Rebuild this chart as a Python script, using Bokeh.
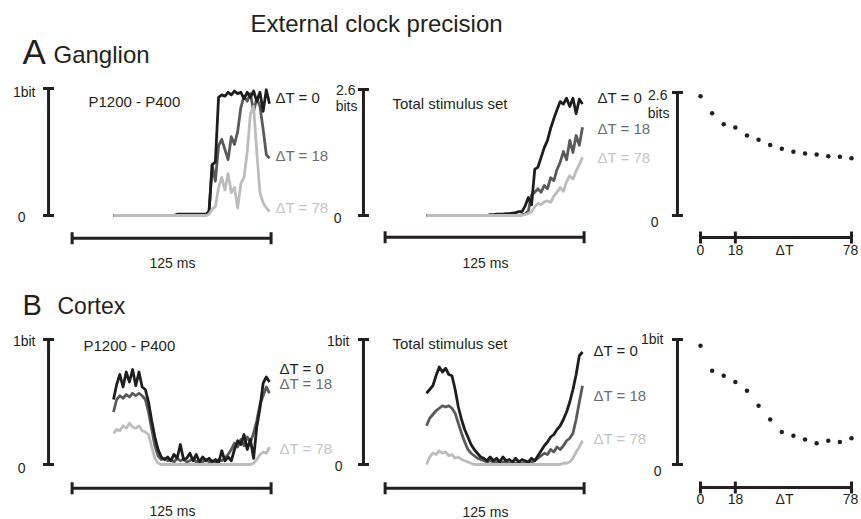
from math import pi
from bokeh.plotting import figure
from bokeh.models import Range1d
from bokeh.core.properties import value
from bokeh.embed import file_html
from bokeh.resources import INLINE

# ---------------- data ----------------
# sample times of the information traces (ms)
T_MS = [0, 2, 4, 6, 8, 10, 12, 14, 16, 18, 20, 22, 24, 26, 28, 30, 32, 34, 36, 38,
        40, 42, 44, 46, 48, 50, 52, 54, 56, 58, 60, 62, 64, 66, 68, 70, 72, 74, 76, 78,
        80, 82, 84, 86, 88, 90, 92, 94, 96, 98]

# A  Ganglion, P1200 - P400 (bits)
A1_DT0 = [0, 0, 0, 0, 0, 0, 0, 0, 0, 0, 0, 0, 0, 0, 0, 0, 0, 0, 0, 0,
          0.01, 0.01, 0.01, 0.01, 0.01, 0.01, 0.01, 0.01, 0.01, 0.01,
          0.03, 0.40, 0.42, 0.93, 0.95, 0.94, 0.97, 0.95, 0.98, 0.96,
          0.97, 0.92, 0.97, 0.93, 0.98, 0.90, 0.97, 0.82, 0.99, 0.88]
A1_DT18 = [0, 0, 0, 0, 0, 0, 0, 0, 0, 0, 0, 0, 0, 0, 0, 0, 0, 0, 0, 0,
           0, 0, 0, 0, 0, 0, 0, 0, 0, 0,
           0.02, 0.40, 0.27, 0.55, 0.60, 0.52, 0.44, 0.62, 0.56, 0.66,
           0.85, 0.94, 0.90, 0.96, 0.82, 0.92, 0.86, 0.68, 0.48, 0.45]
A1_DT78 = [0, 0, 0, 0, 0, 0, 0, 0, 0, 0, 0, 0, 0, 0, 0, 0, 0, 0, 0, 0,
           0, 0, 0, 0, 0, 0, 0, 0, 0, 0,
           0.01, 0.05, 0.07, 0.22, 0.30, 0.20, 0.33, 0.18, 0.22, 0.06,
           0.25, 0.30, 0.50, 0.80, 0.86, 0.50, 0.18, 0.10, 0.06, 0.03]

# A  Ganglion, total stimulus set (bits)
A2_DT0 = [0, 0, 0, 0, 0, 0, 0, 0, 0, 0, 0, 0, 0, 0, 0, 0, 0, 0, 0, 0,
          0.02, 0.02, 0.03, 0.03, 0.03, 0.04, 0.04, 0.05, 0.06, 0.08,
          0.08, 0.20, 0.37, 0.22, 0.95, 1.00, 1.20, 1.40, 1.55, 1.80,
          2.00, 2.18, 2.35, 2.30, 2.42, 2.25, 2.42, 2.10, 2.40, 2.30]
A2_DT18 = [0, 0, 0, 0, 0, 0, 0, 0, 0, 0, 0, 0, 0, 0, 0, 0, 0, 0, 0, 0,
           0, 0, 0, 0, 0, 0, 0, 0, 0, 0,
           0.02, 0.03, 0.10, 0.42, 0.48, 0.55, 0.48, 0.62, 0.55, 0.78,
           0.72, 0.95, 1.10, 1.32, 1.15, 1.55, 1.30, 1.65, 1.45, 1.82]
A2_DT78 = [0, 0, 0, 0, 0, 0, 0, 0, 0, 0, 0, 0, 0, 0, 0, 0, 0, 0, 0, 0,
           0, 0, 0, 0, 0, 0, 0, 0, 0, 0,
           0.00, 0.02, 0.04, 0.08, 0.18, 0.25, 0.22, 0.28, 0.30, 0.27,
           0.40, 0.48, 0.58, 0.50, 0.70, 0.82, 0.75, 0.92, 1.05, 1.20]

# B  Cortex, P1200 - P400 (bits)
B1_DT0 = [0.52, 0.64, 0.72, 0.62, 0.74, 0.66, 0.76, 0.63, 0.74, 0.62,
          0.60, 0.50, 0.35, 0.22, 0.12, 0.06, 0.04, 0.06, 0.03, 0.08,
          0.05, 0.16, 0.04, 0.05, 0.09, 0.03, 0.08, 0.02, 0.06, 0.03,
          0.05, 0.02, 0.04, 0.01, 0.11, 0.03, 0.06, 0.03, 0.12, 0.19,
          0.16, 0.24, 0.12, 0.20, 0.05, 0.30, 0.45, 0.65, 0.70, 0.66]
B1_DT18 = [0.42, 0.52, 0.55, 0.53, 0.56, 0.54, 0.57, 0.55, 0.57, 0.55,
           0.52, 0.42, 0.28, 0.15, 0.07, 0.04, 0.05, 0.03, 0.04, 0.02,
           0.05, 0.03, 0.04, 0.02, 0.03, 0.05, 0.02, 0.03, 0.02, 0.04,
           0.02, 0.03, 0.02, 0.04, 0.03, 0.05, 0.08, 0.12, 0.17, 0.14,
           0.20, 0.15, 0.22, 0.18, 0.25, 0.35, 0.48, 0.55, 0.62, 0.57]
B1_DT78 = [0.25, 0.28, 0.27, 0.31, 0.29, 0.33, 0.30, 0.29, 0.31, 0.27,
           0.26, 0.24, 0.14, 0.05, 0.01, 0, 0, 0, 0, 0,
           0, 0, 0, 0, 0, 0, 0, 0, 0, 0,
           0, 0, 0, 0, 0, 0, 0, 0, 0, 0,
           0, 0, 0, 0, 0.01, 0.04, 0.08, 0.10, 0.09, 0.14]

# B  Cortex, total stimulus set (bits)
B2_DT0 = [0.57, 0.60, 0.63, 0.71, 0.78, 0.74, 0.77, 0.72, 0.71, 0.60,
          0.46, 0.36, 0.28, 0.22, 0.16, 0.12, 0.09, 0.06, 0.05, 0.03,
          0.06, 0.03, 0.05, 0.02, 0.06, 0.03, 0.04, 0.02, 0.05, 0.02,
          0.04, 0.03, 0.02, 0.05, 0.03, 0.07, 0.11, 0.15, 0.18, 0.22,
          0.24, 0.28, 0.31, 0.36, 0.42, 0.50, 0.60, 0.72, 0.87, 0.90]
B2_DT18 = [0.31, 0.37, 0.40, 0.43, 0.45, 0.47, 0.46, 0.47, 0.45, 0.41,
           0.33, 0.25, 0.18, 0.12, 0.09, 0.07, 0.05, 0.04, 0.03, 0.02,
           0.03, 0.02, 0.02, 0.01, 0.02, 0.02, 0.01, 0.02, 0.01, 0.02,
           0.01, 0.02, 0.01, 0.02, 0.03, 0.05, 0.07, 0.09, 0.08, 0.12,
           0.10, 0.14, 0.12, 0.15, 0.19, 0.21, 0.25, 0.36, 0.50, 0.63]
B2_DT78 = [0.00, 0.06, 0.09, 0.08, 0.11, 0.09, 0.10, 0.07, 0.08, 0.05,
           0.06, 0.04, 0.03, 0.02, 0.01, 0, 0, 0, 0, 0,
           0, 0, 0, 0, 0, 0, 0, 0, 0, 0,
           0, 0, 0, 0, 0, 0, 0, 0, 0, 0,
           0, 0, 0, 0.01, 0.01, 0.02, 0.05, 0.10, 0.14, 0.19]

# information vs clock precision ΔT
DT_VALUES = [0, 6, 12, 18, 24, 30, 36, 42, 48, 54, 60, 66, 72, 78]
A3_INFO = [2.52, 2.16, 1.93, 1.86, 1.69, 1.60, 1.49, 1.41, 1.35, 1.31, 1.29, 1.25, 1.24, 1.21]
B3_INFO = [0.95, 0.75, 0.71, 0.66, 0.59, 0.47, 0.36, 0.26, 0.23, 0.20, 0.17, 0.19, 0.18, 0.21]

DT_TICKS = [0, 18, 78]
SERIES_LABELS = ["ΔT = 0", "ΔT = 18", "ΔT = 78"]

# ---------------- styles / layout ----------------
FONT = "Liberation Sans"
INK = "#231f20"
COL = ["#1e1e1e", "#5a5a5a", "#bcbcbc"]      # ΔT = 0, 18, 78 traces
LCOL = ["#231f20", "#6c6c6c", "#c4c4c4"]     # ΔT label colours

W, H, M = 861, 519, 0
p = figure(width=W, height=H, x_range=Range1d(M, M + W), y_range=Range1d(M + H, M),
           output_backend="svg", toolbar_location=None, min_border=0,
           x_axis_location=None, y_axis_location=None)
p.xgrid.visible = False
p.ygrid.visible = False
p.outline_line_color = None
p.background_fill_color = "white"
p.border_fill_color = "white"

# panel boxes: data span -> page pixel span
PANELS = {
    "A1": dict(xd=(0, 98), xs=(113, 269), yd=(0, 1), ys=(215, 88)),
    "A2": dict(xd=(0, 98), xs=(426, 582), yd=(0, 2.6), ys=(215, 89)),
    "A3": dict(xd=(0, 78), xs=(700, 851), yd=(0, 2.6), ys=(215, 92)),
    "B1": dict(xd=(0, 98), xs=(113, 269), yd=(0, 1), ys=(464, 339)),
    "B2": dict(xd=(0, 98), xs=(426, 582), yd=(0, 1), ys=(464, 339)),
    "B3": dict(xd=(0, 78), xs=(700, 851), yd=(0, 1), ys=(464, 339)),
}
xr, yr = {}, {}
for name, b in PANELS.items():
    kx = (b["xs"][1] - b["xs"][0]) / (b["xd"][1] - b["xd"][0])
    x0 = b["xd"][0] - (b["xs"][0] - M) / kx
    xr[name] = Range1d(x0, x0 + W / kx)
    ky = (b["ys"][0] - b["ys"][1]) / (b["yd"][1] - b["yd"][0])
    y0 = b["yd"][0] - ((M + H) - b["ys"][0]) / ky
    yr[name] = Range1d(y0, y0 + H / ky)
p.extra_x_ranges = xr
p.extra_y_ranges = yr

# scale bars: (vertical bar x, its ticks), (horizontal bar y, its ticks)
SCALE = {
    "A1": (-40.8, [0, 1], -0.18, [-26, 99]),
    "A2": (-39.6, [0, 2.6], -0.45, [-26, 99]),
    "A3": (-11.9, [0, 2.6], -0.465, DT_TICKS),
    "B1": (-40.8, [0, 1], -0.19, [-26, 99]),
    "B2": (-39.6, [0, 1], -0.19, [-26, 99]),
    "B3": (-11.9, [0, 1], -0.184, DT_TICKS),
}
for name, (vx, vt, hy, ht) in SCALE.items():
    kw = dict(x_range_name=name, y_range_name=name)
    p.segment(x0=[vx], y0=[vt[0]], x1=[vx], y1=[vt[-1]], line_color=INK, line_width=3, **kw)
    p.scatter(x=[vx] * len(vt), y=vt, marker="dash", size=11, line_color=INK, line_width=3, **kw)
    p.segment(x0=[ht[0]], y0=[hy], x1=[ht[-1]], y1=[hy], line_color=INK, line_width=3, **kw)
    p.scatter(x=ht, y=[hy] * len(ht), marker="dash", angle=pi / 2, size=12,
              line_color=INK, line_width=3, **kw)

TRACES = {
    "A1": (A1_DT0, A1_DT18, A1_DT78),
    "A2": (A2_DT0, A2_DT18, A2_DT78),
    "B1": (B1_DT0, B1_DT18, B1_DT78),
    "B2": (B2_DT0, B2_DT18, B2_DT78),
}
for name, (s0, s18, s78) in TRACES.items():
    kw = dict(x_range_name=name, y_range_name=name)
    for ser, col in ((s18, COL[1]), (s0, COL[0]), (s78, COL[2])):
        p.line(T_MS, ser, line_color=col, line_width=2.8, line_join="round", **kw)

for name, vals in (("A3", A3_INFO), ("B3", B3_INFO)):
    p.scatter(DT_VALUES, vals, marker="circle", size=4.5, fill_color=INK, line_color=None,
              x_range_name=name, y_range_name=name)


def label(x, y, s, size, color=INK, align="left", baseline="middle"):
    p.text(x=[x], y=[y], text=[s], text_font=value(FONT), text_font_size=value(f"{size}px"),
           text_color=color, text_align=value(align), text_baseline=value(baseline))


# headings
label(250, 23, "External clock precision", 24)
label(22, 51, "A", 35)
label(53, 54, "Ganglion", 24)
label(22, 304, "B", 29)
label(57, 305, "Cortex", 23)

# scale-bar labels
SM = 14
label(35, 91, "1bit", SM, align="right")
label(25, 216, "0", SM, align="right")
label(355, 89, "2.6", SM, align="right")
label(357, 105, "bits", SM, align="right")
label(341, 217, "0", SM, align="right")
label(667, 94, "2.6", SM, align="right")
label(669, 112, "bits", SM, align="right")
label(658, 221, "0", SM, align="right")
label(35, 340, "1bit", SM, align="right")
label(25, 467, "0", SM, align="right")
label(349, 340, "1bit", SM, align="right")
label(342, 465, "0", SM, align="right")
label(663, 338, "1bit", SM, align="right")
label(661, 470, "0", SM, align="right")
for row_y in (249, 498):
    label(700, row_y, str(DT_TICKS[0]), SM, align="center")
    label(735, row_y, str(DT_TICKS[1]), SM, align="center")
    label(784, row_y, "ΔT", SM, align="center")
    label(850, row_y, str(DT_TICKS[2]), SM, align="center")
label(172, 262, "125 ms", 14, align="center")
label(485, 262, "125 ms", 14, align="center")
label(172, 510, "125 ms", 14, align="center")
label(485, 511, "125 ms", 14, align="center")

# panel captions
label(88, 101, "P1200 - P400", 15)
label(392, 103, "Total stimulus set", 15)
label(83, 345, "P1200 - P400", 15)
label(392, 343, "Total stimulus set", 15)

# series labels
for (x, ys) in ((275, (97, 155, 207)), (597, (97, 128, 157)),
                (279, (368, 383, 448)), (593, (350, 395, 438))):
    for s, c, y in zip(SERIES_LABELS, LCOL, ys):
        label(x, y, s, 15, color=c)

open("out.html", "w").write(file_html(p, INLINE))
